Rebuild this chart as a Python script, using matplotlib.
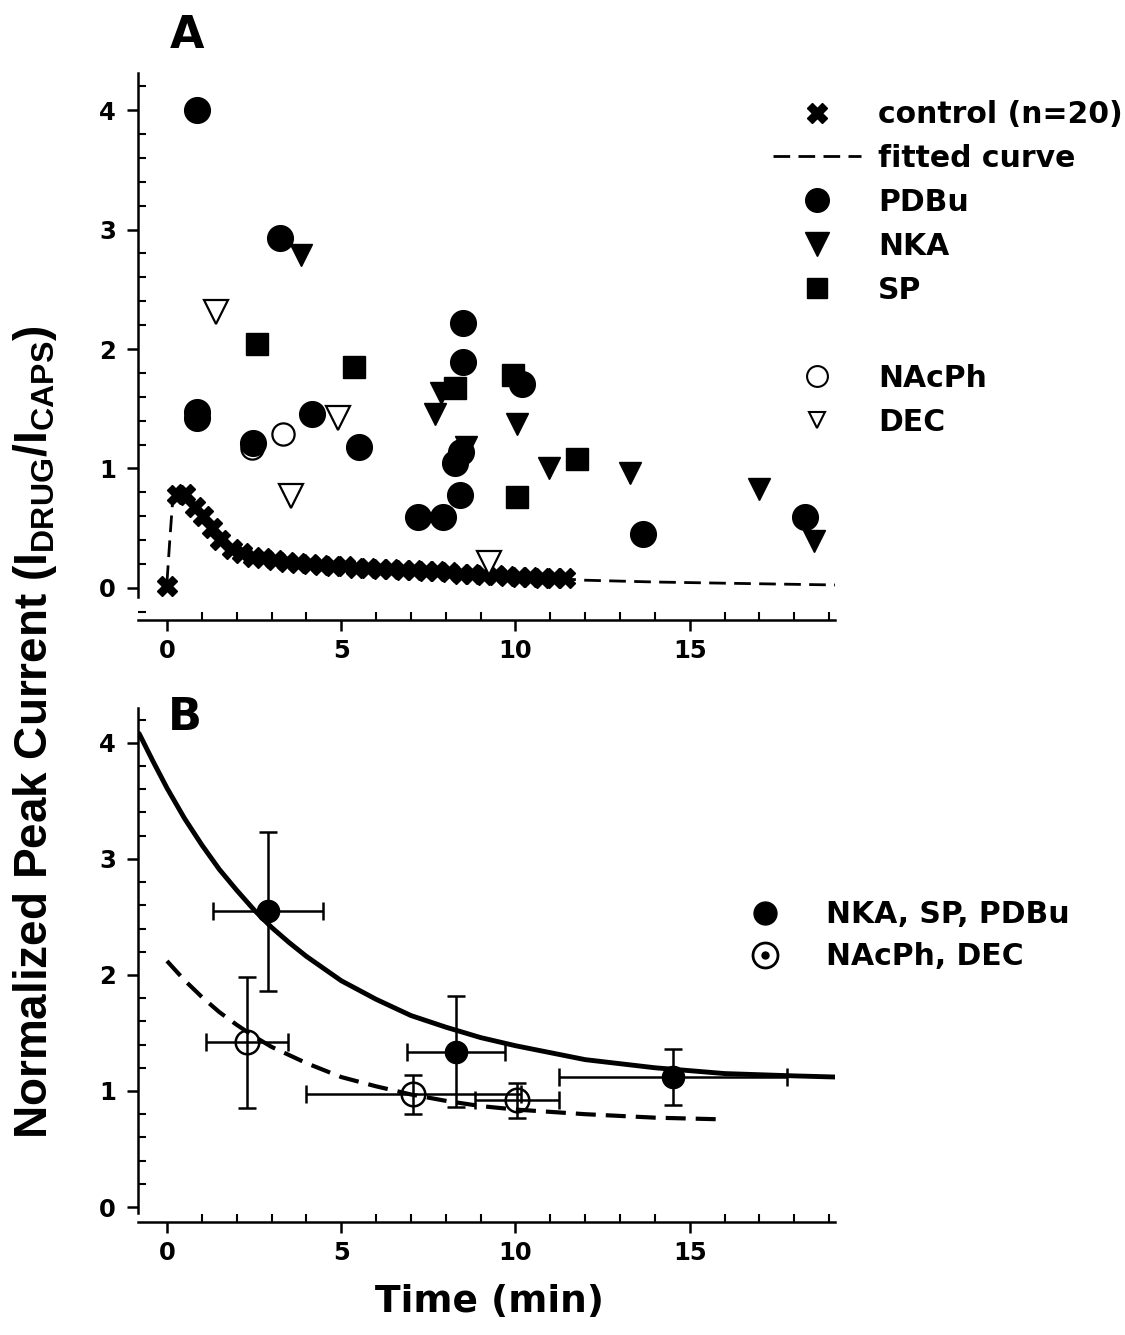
import matplotlib
matplotlib.use("Agg")
import matplotlib.pyplot as plt
from matplotlib.lines import Line2D
from matplotlib.ticker import MultipleLocator

# ---------------- Panel A data ----------------
ctrl_t = [0.0, 0.28, 0.52, 0.80, 1.04, 1.28, 1.52, 1.86, 2.14, 2.48, 2.76, 3.10,
          3.43, 3.76, 4.10, 4.43, 4.76, 5.10, 5.43, 5.76, 6.10, 6.43, 6.76, 7.10,
          7.43, 7.76, 8.10, 8.43, 8.76, 9.10, 9.43, 9.76, 10.10, 10.43, 10.76,
          11.10, 11.43]
ctrl_y = [0.02, 0.78, 0.79, 0.68, 0.60, 0.50, 0.40, 0.33, 0.29, 0.26, 0.25, 0.23,
          0.22, 0.21, 0.20, 0.19, 0.18, 0.18, 0.17, 0.17, 0.16, 0.16, 0.15, 0.15,
          0.14, 0.14, 0.13, 0.12, 0.12, 0.11, 0.11, 0.10, 0.09, 0.09, 0.08,
          0.08, 0.08]

fitA_t = [0.0, 0.08, 0.16, 0.3, 0.5, 1.0, 1.5, 2.0, 3.0, 4.0, 5.0, 6.0, 8.0,
          10.0, 12.0, 14.0, 16.0, 19.2]
fitA_y = [0.05, 0.40, 0.72, 0.80, 0.78, 0.60, 0.42, 0.31, 0.23, 0.20, 0.18,
          0.16, 0.13, 0.10, 0.065, 0.05, 0.04, 0.025]

pdbu_t = [0.86, 0.85, 0.87, 2.47, 3.24, 4.16, 5.51, 7.20, 7.92, 8.41, 8.26,
          8.45, 8.50, 8.50, 10.19, 13.66, 18.30]
pdbu_y = [4.00, 1.47, 1.42, 1.21, 2.93, 1.46, 1.18, 0.59, 0.59, 0.78, 1.05,
          1.14, 2.22, 1.89, 1.71, 0.45, 0.59]

nka_t = [3.85, 7.69, 7.85, 8.57, 10.04, 10.96, 13.28, 17.00, 18.57]
nka_y = [2.79, 1.46, 1.63, 1.18, 1.37, 1.00, 0.96, 0.83, 0.39]

sp_t = [2.57, 5.37, 8.26, 9.94, 10.05, 11.76]
sp_y = [2.04, 1.85, 1.67, 1.78, 0.76, 1.08]

nacph_t = [3.32, 2.43]
nacph_y = [1.29, 1.17]

dec_t = [1.41, 4.92, 3.56, 9.24]
dec_y = [2.31, 1.42, 0.77, 0.21]

# ---------------- Panel B data ----------------
grp1_t = [2.90, 8.29, 14.52]
grp1_y = [2.55, 1.34, 1.12]
grp1_xerr = [1.58, 1.40, 3.27]
grp1_yerr = [0.685, 0.48, 0.24]

grp2_t = [2.30, 7.07, 10.04]
grp2_y = [1.42, 0.97, 0.92]
grp2_xerr = [1.18, 3.08, 1.20]
grp2_yerr = [0.565, 0.165, 0.15]

fit1_t = [-0.8, -0.4, 0.0, 0.5, 1.0, 1.5, 2.0, 2.5, 3.0, 3.5, 4.0, 5.0, 6.0,
          7.0, 8.0, 9.0, 10.0, 12.0, 14.0, 16.0, 18.0, 19.2]
fit1_y = [4.08, 3.84, 3.61, 3.35, 3.12, 2.91, 2.73, 2.56, 2.41, 2.28, 2.16,
          1.95, 1.79, 1.65, 1.55, 1.46, 1.39, 1.27, 1.20, 1.15, 1.13, 1.12]

fit2_t = [0.0, 0.5, 1.0, 1.5, 2.0, 2.5, 3.0, 4.0, 5.0, 6.0, 7.0, 8.0, 9.0,
          10.0, 12.0, 14.0, 16.0]
fit2_y = [2.12, 1.955, 1.81, 1.68, 1.57, 1.47, 1.38, 1.24, 1.12, 1.04, 0.97,
          0.915, 0.87, 0.84, 0.80, 0.77, 0.755]

x_ticks = [0, 5, 10, 15]
y_ticks = [0, 1, 2, 3, 4]

# ---------------- Styling ----------------
plt.rcParams['font.family'] = ['DejaVu Sans']
plt.rcParams['font.weight'] = 'bold'

W, H = 1125, 1335
fig = plt.figure(figsize=(W / 100, H / 100), dpi=100)

def px_axes(left, top, right, bottom):
    return fig.add_axes([left / W, 1 - bottom / H, (right - left) / W, (bottom - top) / H])

axA = px_axes(138, 73, 835, 620)
axB = px_axes(138, 708, 835, 1222)

def style(ax, ylim, ybounds):
    ax.set_xlim(-0.832, 19.168)
    ax.set_ylim(*ylim)
    for s in ('top', 'right'):
        ax.spines[s].set_visible(False)
    for s in ('left', 'bottom'):
        ax.spines[s].set_linewidth(1.8)
    ax.spines['left'].set_bounds(*ybounds)
    ax.set_xticks(x_ticks)
    ax.set_yticks(y_ticks)
    ax.xaxis.set_minor_locator(MultipleLocator(1))
    ax.yaxis.set_minor_locator(MultipleLocator(0.2))
    ax.tick_params(which='major', direction='out', length=8, width=1.8,
                   labelsize=17.5)
    ax.tick_params(axis='x', which='major', pad=6)
    ax.tick_params(axis='y', which='major', pad=8)
    ax.tick_params(which='minor', direction='in', length=6, width=1.5)
    for lab in ax.get_xticklabels() + ax.get_yticklabels():
        lab.set_fontweight('bold')

style(axA, (-0.268, 4.31), (-0.075, 4.31))
style(axB, (-0.129, 4.30), (-0.05, 4.30))

# ---- Panel A ----
axA.plot(fitA_t, fitA_y, color='black', lw=2.0, dashes=(6, 3), zorder=2)
axA.plot(ctrl_t, ctrl_y, linestyle='none', marker='X', ms=14.5, color='black',
         mec='black', zorder=3)
axA.plot(pdbu_t, pdbu_y, linestyle='none', marker='o', ms=18.5, color='black', zorder=4)
axA.plot(nka_t, nka_y, linestyle='none', marker='v', ms=16.5, color='black', zorder=4)
axA.plot(sp_t, sp_y, linestyle='none', marker='s', ms=16, color='black', zorder=4)
axA.plot(nacph_t, nacph_y, linestyle='none', marker='o', ms=16, mfc='white',
         mec='black', mew=1.6, zorder=3.5)
axA.plot(dec_t, dec_y, linestyle='none', marker='v', ms=17, mfc='white',
         mec='black', mew=1.6, zorder=4)

hA = [
    Line2D([], [], linestyle='none', marker='X', ms=15, color='black'),
    Line2D([], [], color='black', lw=2.0, dashes=(6, 3)),
    Line2D([], [], linestyle='none', marker='o', ms=17, color='black'),
    Line2D([], [], linestyle='none', marker='v', ms=17, color='black'),
    Line2D([], [], linestyle='none', marker='s', ms=15, color='black'),
    Line2D([], [], linestyle='none'),
    Line2D([], [], linestyle='none', marker='o', ms=15, mfc='white', mec='black', mew=1.5),
    Line2D([], [], linestyle='none', marker='v', ms=12, mfc='white', mec='black', mew=1.5),
]
lA = ['control (n=20)', 'fitted curve', 'PDBu', 'NKA', 'SP', '', 'NAcPh', 'DEC']
axA.legend(hA, lA, loc='upper left', bbox_to_anchor=(773 / W, 1 - 100 / H),
           bbox_transform=fig.transFigure, frameon=False, borderpad=0,
           borderaxespad=0, handlelength=2.95, handletextpad=0.57,
           labelspacing=0.50, prop={'size': 21.5, 'weight': 'bold'})

# ---- Panel B ----
axB.plot(fit1_t, fit1_y, color='black', lw=3.5, solid_capstyle='round', zorder=2)
axB.plot(fit2_t, fit2_y, color='black', lw=3.0, dashes=(4.8, 2.4), zorder=2)
ebkw = dict(ecolor='black', elinewidth=1.8, capsize=6.5, capthick=1.8, linestyle='none')
axB.errorbar(grp1_t, grp1_y, xerr=grp1_xerr, yerr=grp1_yerr, marker='o', ms=16,
             mfc='black', mec='black', zorder=3, **ebkw)
axB.errorbar(grp2_t, grp2_y, xerr=grp2_xerr, yerr=grp2_yerr, marker='o', ms=17,
             mfc='none', mec='black', mew=1.8, zorder=3, **ebkw)

hB = [
    Line2D([], [], linestyle='none', marker='o', ms=16.5, color='black'),
    (Line2D([], [], linestyle='none', marker='o', ms=18, mfc='white', mec='black', mew=2.0),
     Line2D([], [], linestyle='none', marker='o', ms=5, color='black')),
]
lB = ['NKA, SP, PDBu', 'NAcPh, DEC']
axB.legend(hB, lB, loc='upper left', bbox_to_anchor=(747 / W, 1 - 900 / H),
           bbox_transform=fig.transFigure, frameon=False, borderpad=0,
           borderaxespad=0, handlelength=1.2, handletextpad=1.44,
           labelspacing=0.45, prop={'size': 21.5, 'weight': 'bold'})

# ---- Text ----
fig.text(187 / W, 1 - 35 / H, 'A', fontsize=32, fontweight='bold', ha='center', va='center')
fig.text(185 / W, 1 - 718 / H, 'B', fontsize=32, fontweight='bold', ha='center', va='center')
fig.text(490 / W, 1 - 1302 / H, 'Time (min)', fontsize=27, fontweight='bold',
         ha='center', va='center')
fig.text(35 / W, 1 - 732 / H,
         r'Normalized Peak Current (I$_{\mathregular{DRUG}}$/I$_{\mathregular{CAPS}}$)',
         rotation=90, fontsize=33, fontweight='bold', ha='center', va='center',
         family=['Liberation Sans', 'DejaVu Sans'])

fig.savefig('out.png', dpi=100)
